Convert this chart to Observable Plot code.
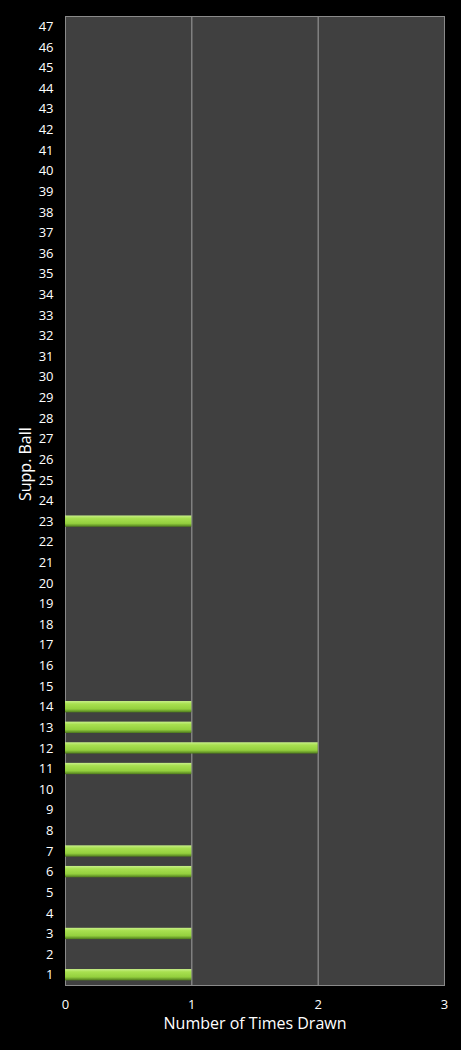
<!DOCTYPE html>
<html>
<head>
<meta charset="utf-8">
<script src="https://cdn.jsdelivr.net/npm/d3@7"></script>
<script src="https://cdn.jsdelivr.net/npm/@observablehq/plot@0.6"></script>
<style>
  html, body { margin: 0; padding: 0; background: #000; }
  #chart svg { display: block; }
</style>
</head>
<body>
<div id="chart"></div>
<script>
const balls = [1,2,3,4,5,6,7,8,9,10,11,12,13,14,15,16,17,18,19,20,21,22,23,24,25,26,27,28,29,30,31,32,33,34,35,36,37,38,39,40,41,42,43,44,45,46,47];
const timesDrawn = [1,0,1,0,0,1,1,0,0,0,1,2,1,1,0,0,0,0,0,0,0,0,1,0,0,0,0,0,0,0,0,0,0,0,0,0,0,0,0,0,0,0,0,0,0,0,0];
const xTicks = [0,1,2,3];

const data = balls.map((b, i) => ({ball: String(b), count: timesDrawn[i]}));
const bars = data.filter(d => d.count > 0);

const defs = () => {
  const svg = d3.create("svg:defs");
  const g = svg.append("linearGradient").attr("id", "barGrad")
    .attr("x1", 0).attr("y1", 0).attr("x2", 0).attr("y2", 1);
  g.append("stop").attr("offset", "0%").attr("stop-color", "#c8f08a");
  g.append("stop").attr("offset", "25%").attr("stop-color", "#a8e050");
  g.append("stop").attr("offset", "70%").attr("stop-color", "#94d03e");
  g.append("stop").attr("offset", "100%").attr("stop-color", "#4e7a1c");
  return svg.node();
};

const chart = Plot.plot({
  width: 461,
  height: 1050,
  marginLeft: 65,
  marginRight: 17,
  marginTop: 16,
  marginBottom: 65,
  style: { background: "#000", color: "#fff", fontFamily: "'Open Sans', 'DejaVu Sans', sans-serif", fontSize: "13px" },
  x: { domain: [0, 3], ticks: xTicks, tickSize: 0, tickPadding: 14, tickFormat: d3.format("d"), label: null },
  y: { domain: balls.slice().reverse().map(String), paddingInner: 0.5, paddingOuter: 0.25, round: false, tickSize: 0, tickPadding: 12, label: null },
  marks: [
    defs,
    Plot.frame({ fill: "#404040" }),
    Plot.gridX(xTicks.slice(1, 3), { stroke: "#a0a0a0", strokeOpacity: 1, strokeWidth: 1 }),
    Plot.frame({ stroke: "#8a8a8a", strokeWidth: 1 }),
    Plot.barX(bars, { x: "count", y: "ball", fill: "url(#barGrad)", insetTop: -0.5, insetBottom: -0.5 }),
    Plot.axisX({ ticks: xTicks, tickSize: 0, tickPadding: 14, tickFormat: d3.format("d"), fontSize: 13, label: null, fill: "#fff" }),
    Plot.axisY({ tickSize: 0, tickPadding: 12, fontSize: 13, label: null, fill: "#fff" }),
    Plot.text(["Number of Times Drawn"], { frameAnchor: "bottom", dy: 43, fontSize: 16, fill: "#fff" }),
    Plot.text(["Supp. Ball"], { frameAnchor: "left", dx: -40, rotate: -90, fontSize: 16, fill: "#fff" })
  ]
});
document.getElementById("chart").appendChild(chart);
</script>
</body>
</html>
